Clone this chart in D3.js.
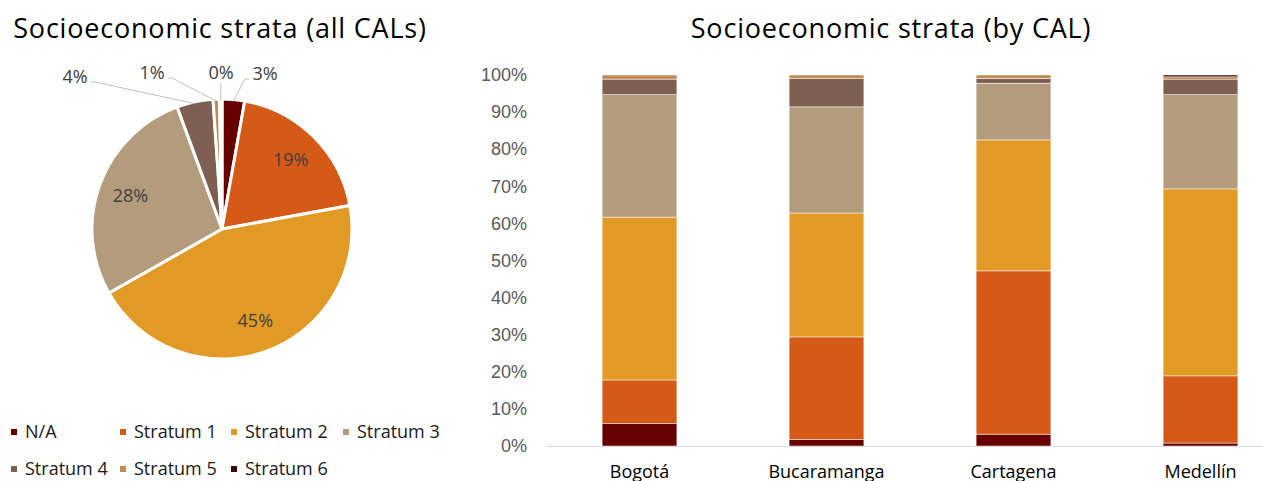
<!DOCTYPE html>
<meta charset="utf-8">
<style>
body { margin: 0; background: #fff; }
svg { font-family: "Open Sans", sans-serif; }
.title { font-size: 27px; fill: #000; letter-spacing: 0.8px; }
.pie-label { font-size: 18px; fill: #404040; }
.legend text { font-size: 18px; fill: #1a1a1a; }
.tick text { font-size: 18px; fill: #595959; }
.xlab { font-size: 18px; fill: #000; }
</style>
<svg width="1263" height="481"></svg>
<script src="https://cdn.jsdelivr.net/npm/d3@7"></script>
<script>

var strata = ["N/A", "Stratum 1", "Stratum 2", "Stratum 3", "Stratum 4", "Stratum 5", "Stratum 6"];
var colors = ["#660000", "#D55A17", "#E19A26", "#B39C7C", "#7E5F52", "#C08A50", "#3D0606"];

// pie: share of all CALs (%), labels as printed
var allShare = [2.8, 19.3, 44.7, 27.6, 4.5, 0.8, 0.3];
var allLabels = ["3%", "19%", "45%", "28%", "4%", "1%", "0%"];

// bars: share by CAL (%)
var cities = ["Bogotá", "Bucaramanga", "Cartagena", "Medellín"];
var naVals = [6.0, 1.7, 3.2, 0.8];
var s1Vals = [11.8, 27.7, 44.0, 18.1];
var s2Vals = [43.9, 33.4, 35.3, 50.4];
var s3Vals = [33.0, 28.6, 15.3, 25.4];
var s4Vals = [4.2, 7.6, 1.3, 4.2];
var s5Vals = [1.1, 1.0, 0.9, 0.6];
var s6Vals = [0.0, 0.0, 0.0, 0.5];
var yTicks = [0, 10, 20, 30, 40, 50, 60, 70, 80, 90, 100];

var svg = d3.select("svg");

//////////////////////////// pie ////////////////////////////

svg.append("text").attr("class", "title")
    .attr("x", 220).attr("y", 38).attr("text-anchor", "middle")
    .text("Socioeconomic strata (all CALs)");

var cx = 222, cy = 229, r = 130;
var pg = svg.append("g").attr("transform", "translate(" + cx + "," + cy + ")");

var pie = d3.pie().sort(null).value(function(d) { return d; });
var arcs = pie(allShare);
var arc = d3.arc().innerRadius(0).outerRadius(r);

pg.selectAll("path.slice")
    .data(arcs)
    .enter().append("path")
      .attr("class", "slice")
      .attr("d", arc)
      .attr("fill", function(d, i) { return colors[i]; })
      .attr("stroke", "#fff")
      .attr("stroke-width", 3)
      .attr("stroke-linejoin", "round");

// big slices get labels inside
var inArc = d3.arc().innerRadius(r * 0.75).outerRadius(r * 0.75);
pg.selectAll("text.in")
    .data(arcs.filter(function(d) { return d.value > 10; }))
    .enter().append("text")
      .attr("class", "pie-label")
      .attr("text-anchor", "middle")
      .attr("dy", "0.35em")
      .attr("transform", function(d) { return "translate(" + inArc.centroid(d) + ")"; })
      .text(function(d) { return allLabels[d.index]; });

// small slices: labels outside with leader lines (label spot relative to centre)
var outPos = {0: [43, -155], 4: [-147, -152], 5: [-70, -156], 6: [-1, -156]};
var edge = d3.arc().innerRadius(r - 2).outerRadius(r - 2);
Object.keys(outPos).forEach(function(k) {
  var d = arcs[+k], p = outPos[k];
  var a = edge.centroid(d);
  var pts;
  if (Math.abs(p[0] - a[0]) < 8) {
    pts = [a, [a[0], p[1] + 10]];
  } else {
    var side = p[0] > a[0] ? -1 : 1;
    var ex = p[0] + side * 16, ey = p[1] + 5;
    pts = [a, [ex + side * 4, ey], [ex, ey]];
  }
  pg.append("path")
      .attr("d", d3.line()(pts))
      .attr("fill", "none")
      .attr("stroke", "#BFBFBF")
      .attr("stroke-width", 1);
  pg.append("text").attr("class", "pie-label")
      .attr("x", p[0]).attr("y", p[1]).attr("dy", "0.35em")
      .attr("text-anchor", "middle")
      .text(allLabels[+k]);
});

// legend
var legCols = [11, 120, 231, 343], legRows = [432, 469];
var legend = svg.append("g").attr("class", "legend");
strata.forEach(function(s, i) {
  var col = i < 4 ? i : i - 4, row = i < 4 ? 0 : 1;
  var x = legCols[col], y = legRows[row];
  legend.append("rect").attr("x", x).attr("y", y - 3).attr("width", 6).attr("height", 6)
      .attr("fill", colors[i]);
  legend.append("text").attr("x", x + 14).attr("y", y).attr("dy", "0.35em").text(s);
});

//////////////////////////// bars ////////////////////////////

svg.append("text").attr("class", "title")
    .attr("x", 891).attr("y", 38).attr("text-anchor", "middle")
    .text("Socioeconomic strata (by CAL)");

var series = [naVals, s1Vals, s2Vals, s3Vals, s4Vals, s5Vals, s6Vals];
var table = cities.map(function(c, j) {
  var row = {city: c};
  strata.forEach(function(s, i) { row[s] = series[i][j]; });
  return row;
});

var x = d3.scaleBand().domain(cities).range([546, 1294]).paddingInner(0.6).paddingOuter(0.3);
var y = d3.scaleLinear().domain([0, 100]).range([446, 75]);

var stacked = d3.stack().keys(strata)(table);

svg.append("g")
    .attr("transform", "translate(537,0)")
    .call(d3.axisLeft(y).tickValues(yTicks).tickSize(0).tickPadding(0)
      .tickFormat(function(d) { return d + "%"; }))
    .call(function(g) { g.select(".domain").remove(); })
    .selectAll("text").attr("dx", -10);

svg.append("g").selectAll("g")
    .data(stacked)
    .enter().append("g")
      .attr("fill", function(d, i) { return colors[i]; })
    .selectAll("rect")
    .data(function(d) { return d; })
    .enter().append("rect")
      .attr("x", function(d) { return x(d.data.city); })
      .attr("width", x.bandwidth())
      .attr("y", function(d) { return y(d[1]); })
      .attr("height", function(d) { return y(d[0]) - y(d[1]); })
      .attr("stroke", "#fff")
      .attr("stroke-width", 0.5);

svg.append("line")
    .attr("x1", 546).attr("x2", 1263)
    .attr("y1", y(0) + 0.5).attr("y2", y(0) + 0.5)
    .attr("stroke", "#D9D9D9");

svg.selectAll("text.xlab")
    .data(cities)
    .enter().append("text")
      .attr("class", "xlab")
      .attr("x", function(d) { return x(d) + x.bandwidth() / 2; })
      .attr("y", 478)
      .attr("text-anchor", "middle")
      .text(function(d) { return d; });

</script>
